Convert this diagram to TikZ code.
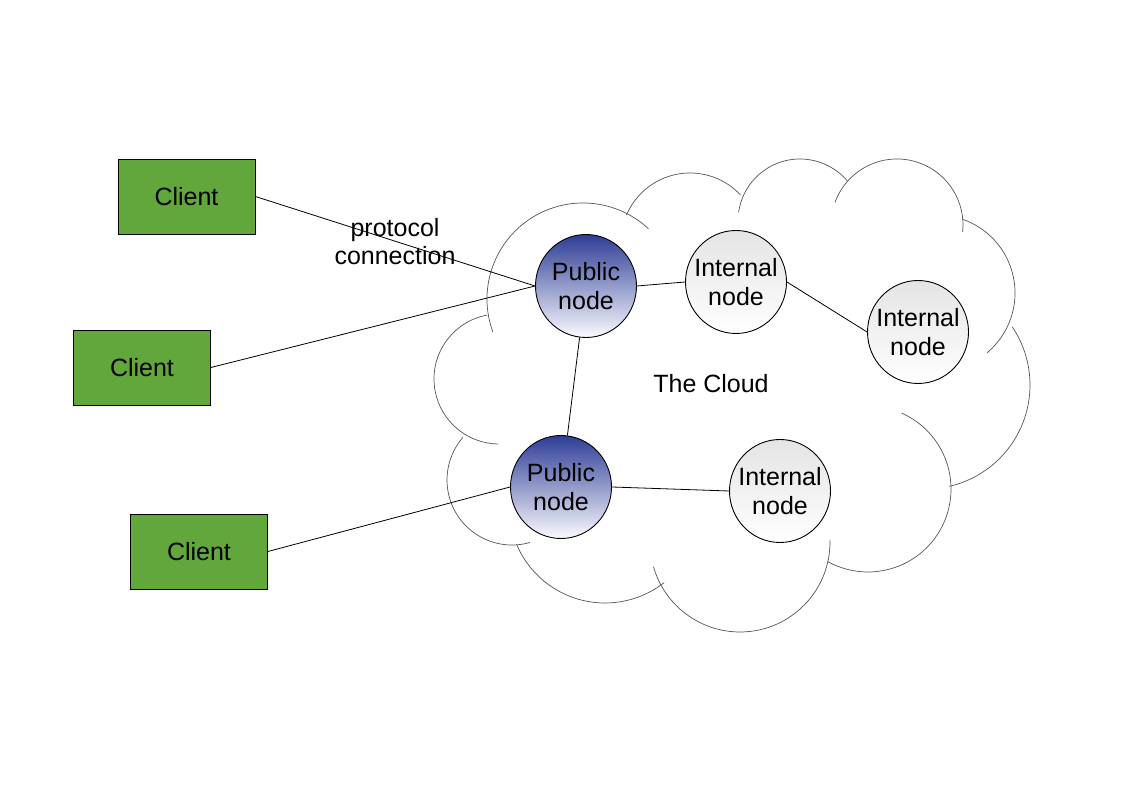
\documentclass[tikz,border=0pt]{standalone}
\usepackage{fontspec}
\setmainfont{Liberation Sans}
\usetikzlibrary{shapes.geometric}
\definecolor{clientgreen}{HTML}{62A73B}
\definecolor{pubtop}{HTML}{2E3D95}
\definecolor{pubbot}{HTML}{FAFAFF}
\definecolor{inttop}{HTML}{E4E4E4}
\definecolor{cloudline}{HTML}{555555}
\tikzset{
  txt/.style={font=\fontsize{25}{29}\selectfont, align=center, inner sep=0pt},
  client/.style={txt, draw=black, line width=0.8pt, fill=clientgreen, minimum width=137pt, minimum height=75pt, inner sep=0pt},
  pubnode/.style={ellipse, draw=black, line width=0.9pt, top color=pubtop, bottom color=pubbot, minimum width=101pt, minimum height=103pt, inner sep=0pt},
  intnode/.style={ellipse, draw=black, line width=0.9pt, top color=inttop, bottom color=white, minimum width=101pt, minimum height=103pt, inner sep=0pt},
  link/.style={draw=black, line width=0.8pt},
  lobe/.style={draw=cloudline, line width=0.7pt}
}
\begin{document}
\begin{tikzpicture}[x=1pt,y=1pt]
\useasboundingbox[fill=white] (0,0) rectangle (1123,794);
% cloud lobes
\draw[lobe] ([shift={(200:96)}]583,495) arc[start angle=200, end angle=47, radius=96];
\draw[lobe] ([shift={(157:69)}]690,552) arc[start angle=157, end angle=43, radius=69];
\draw[lobe] ([shift={(172:62)}]800,573) arc[start angle=172, end angle=40, radius=62];
\draw[lobe] ([shift={(160:66)}]897,569) arc[start angle=160, end angle=-6, radius=66];
\draw[lobe] ([shift={(71:78)}]937,501) arc[start angle=71, end angle=-50, radius=78];
\draw[lobe] ([shift={(34:104)}]926,409) arc[start angle=34, end angle=-77, radius=104];
\draw[lobe] ([shift={(66:83)}]868,305) arc[start angle=66, end angle=-119, radius=83];
\draw[lobe] ([shift={(1:90)}]740,252) arc[start angle=1, end angle=-164, radius=90];
\draw[lobe] ([shift={(-52:96)}]605,287) arc[start angle=-52, end angle=-157, radius=96];
\draw[lobe] ([shift={(-74:65)}]512,314) arc[start angle=-74, end angle=-221, radius=65];
\draw[lobe] ([shift={(100.6:65)}]499,415) arc[start angle=100.6, end angle=269, radius=65];
% nodes
\node[client] (c1) at (186.5,597.5) {Client};
\node[client] (c2) at (142,426.5) {Client};
\node[client] (c3) at (199,242.5) {Client};
\node[pubnode] (p1) at (586,508) {};
\node[pubnode] (p2) at (561,307) {};
\node[intnode] (i1) at (736,512) {};
\node[intnode] (i2) at (918,462) {};
\node[intnode] (i3) at (780,303) {};
\node[txt] (p1t) at (p1) {Public\\node};
\node[txt] (p2t) at (p2) {Public\\node};
\node[txt] (i1t) at (i1) {Internal\\node};
\node[txt] (i2t) at (i2) {Internal\\node};
\node[txt] (i3t) at (i3) {Internal\\node};
\node[txt] (cloud) at (711,410) {The Cloud};
% connectors
\draw[link] (c1.east) -- (p1.west);
\draw[link] (c2.east) -- (p1.west);
\draw[link] (c3.east) -- (p2.west);
\draw[link] (p1) -- (p2);
\draw[link] (p1.east) -- (i1.west);
\draw[link] (i1.east) -- (i2.west);
\draw[link] (p2.east) -- (i3.west);
\node[txt, font=\fontsize{25}{28}\selectfont] (lbl) at (395,552) {protocol\\connection};
\end{tikzpicture}
\end{document}
